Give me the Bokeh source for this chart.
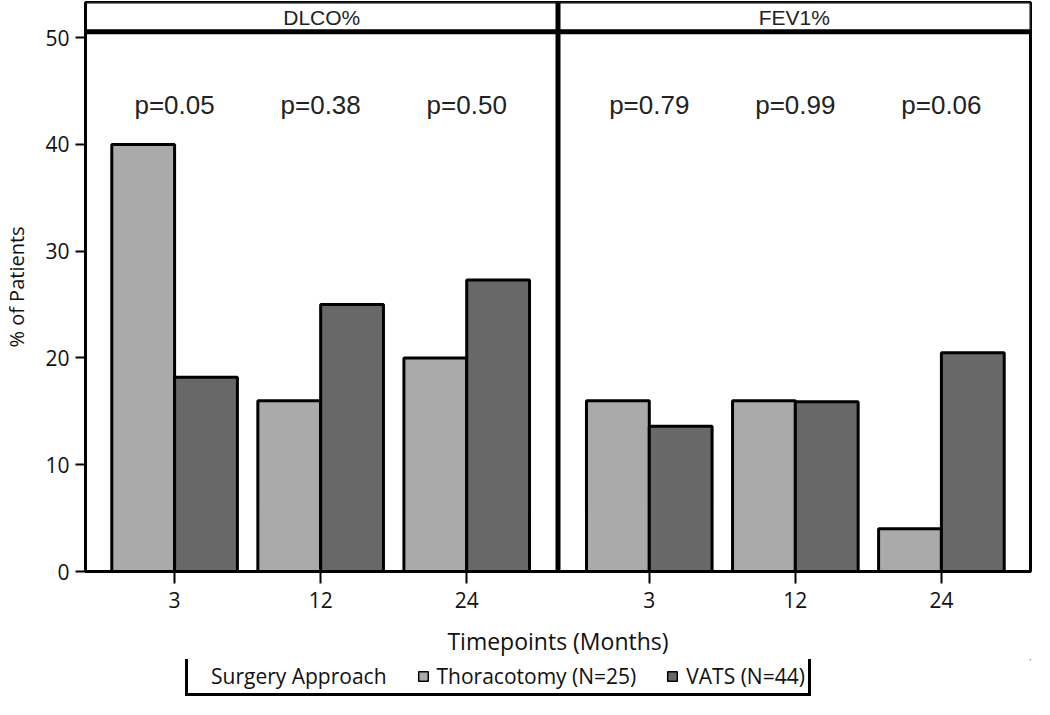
from bokeh.plotting import figure
from bokeh.models import FixedTicker, Span, Legend, LegendItem, ColumnDataSource
from bokeh.layouts import column
from bokeh.core.properties import value
from bokeh.embed import file_html
from bokeh.resources import INLINE

# ---------------- data ----------------
panels = ["DLCO%", "FEV1%"]
timepoints = ["3", "12", "24"]
thoracotomy_dlco = [40.0, 16.0, 20.0]
vats_dlco = [18.2, 25.0, 27.3]
thoracotomy_fev1 = [16.0, 16.0, 4.0]
vats_fev1 = [13.6, 15.9, 20.5]
p_dlco = ["p=0.05", "p=0.38", "p=0.50"]
p_fev1 = ["p=0.79", "p=0.99", "p=0.06"]
series_names = ["Thoracotomy (N=25)", "VATS (N=44)"]
legend_title = "Surgery Approach"
y_ticks = [0, 10, 20, 30, 40, 50]

# ---------------- layout helpers ----------------
FONT = "Open Sans"
ARIAL = "Liberation Sans"
LIGHT = "#aaaaaa"
DARK = "#686868"
panel_shift = 3.25
x_start, x_end = -0.61, 5.86
divider = 2.625
bar_w = 0.43
p_y = 43.7
header_bottom = 50.55
y_end = 53.3

left_pos = [float(i) for i in range(len(timepoints))]
right_pos = [q + panel_shift for q in left_pos]
all_pos = left_pos + right_pos
all_labels = timepoints + timepoints

thor_vals = thoracotomy_dlco + thoracotomy_fev1
vats_vals = vats_dlco + vats_fev1

src_thor = ColumnDataSource(dict(x=[q - bar_w / 2 for q in all_pos], top=thor_vals))
src_vats = ColumnDataSource(dict(x=[q + bar_w / 2 for q in all_pos], top=vats_vals))
src_p = ColumnDataSource(dict(x=all_pos, y=[p_y] * len(all_pos), text=p_dlco + p_fev1))

p = figure(width=1034, height=659, x_range=(x_start, x_end), y_range=(0, y_end),
           output_backend="svg", toolbar_location=None,
           min_border_left=80, min_border_right=4, min_border_top=2, min_border_bottom=0)
p.grid.visible = False
p.outline_line_color = "black"
p.outline_line_width = 3
p.background_fill_color = "white"
p.border_fill_color = "white"

r_thor = p.vbar(x="x", top="top", width=bar_w, bottom=0, source=src_thor,
                fill_color=LIGHT, line_color="black", line_width=3)
r_vats = p.vbar(x="x", top="top", width=bar_w, bottom=0, source=src_vats,
                fill_color=DARK, line_color="black", line_width=3)

p.text(x="x", y="y", text="text", source=src_p, text_align="center", text_baseline="middle",
       text_font=value(ARIAL), text_font_size="26px", text_color="#222222")

# panel header strips
p.quad(left=[x_start, divider], right=[divider, x_end], bottom=[header_bottom] * 2,
       top=[y_end] * 2, fill_color="white", line_color="black", line_width=2)
centers = [(x_start + divider) / 2, (divider + x_end) / 2]
p.text(x=centers, y=[(header_bottom + y_end) / 2] * 2, text=panels, text_align="center",
       text_baseline="middle", text_font=value(ARIAL), text_font_size="21px",
       text_color="#222222")
p.add_layout(Span(location=header_bottom, dimension="width", line_color="black", line_width=5))
p.add_layout(Span(location=divider, dimension="height", line_color="black", line_width=5))

# x axis
xa = p.xaxis[0]
xa.ticker = FixedTicker(ticks=all_pos)
xa.major_label_overrides = {pos: lab for pos, lab in zip(all_pos, all_labels)}
xa.axis_label = "Timepoints (Months)"
xa.axis_label_text_font = FONT
xa.axis_label_text_font_size = "23px"
xa.axis_label_text_font_style = "normal"
xa.axis_label_text_color = "#111111"
xa.axis_label_standoff = 14
xa.major_label_text_font = FONT
xa.major_label_text_font_size = "21px"
xa.major_label_text_color = "#111111"
xa.major_label_standoff = 8
xa.major_tick_out = 12
xa.major_tick_in = 0
xa.major_tick_line_width = 2
xa.minor_tick_line_color = None
xa.axis_line_width = 3

# y axis
ya = p.yaxis[0]
ya.ticker = FixedTicker(ticks=y_ticks)
ya.axis_label = "% of Patients"
ya.axis_label_text_font = FONT
ya.axis_label_text_font_size = "20px"
ya.axis_label_text_font_style = "normal"
ya.axis_label_text_color = "#111111"
ya.axis_label_standoff = 12
ya.major_label_text_font = FONT
ya.major_label_text_font_size = "21px"
ya.major_label_text_color = "#111111"
ya.major_label_standoff = 6
ya.major_tick_out = 10
ya.major_tick_in = 0
ya.major_tick_line_width = 2
ya.minor_tick_line_color = None
ya.axis_line_width = 3

# ---------------- legend strip (own small figure under the chart) ----------------
lg = figure(width=1034, height=40, x_range=(0, 1), y_range=(0, 1),
            x_axis_location=None, y_axis_location=None, output_backend="svg",
            toolbar_location=None, min_border_left=0, min_border_right=0,
            min_border_top=0, min_border_bottom=0)
lg.grid.visible = False
lg.outline_line_color = None
lg.background_fill_color = "white"
lg.border_fill_color = "white"

# legend proxies: same styles as the bars, placed outside this strip's visible range
l_title = lg.scatter(x=[5], y=[5], size=0, fill_alpha=0, line_alpha=0)
l_thor = lg.vbar(x=[5], top=[thor_vals[0]], width=1, bottom=4,
                 fill_color=LIGHT, line_color="black", line_width=1.5)
l_vats = lg.vbar(x=[5], top=[vats_vals[0]], width=1, bottom=4,
                 fill_color=DARK, line_color="black", line_width=1.5)

items = [LegendItem(label=legend_title, renderers=[l_title]),
         LegendItem(label=series_names[0], renderers=[l_thor]),
         LegendItem(label=series_names[1], renderers=[l_vats])]
legend = Legend(items=items, orientation="horizontal", location=(100, 3),
                border_line_color="black", border_line_width=3, border_line_alpha=1.0,
                background_fill_color="white", background_fill_alpha=1.0,
                padding=3, spacing=30, glyph_width=12, glyph_height=12, label_standoff=8,
                label_height=20,
                label_text_font=FONT, label_text_font_size="21px", label_text_color="#111111",
                margin=0)
lg.add_layout(legend, "center")

layout = column(p, lg, spacing=0)
open("out.html", "w").write(file_html(layout, INLINE))
